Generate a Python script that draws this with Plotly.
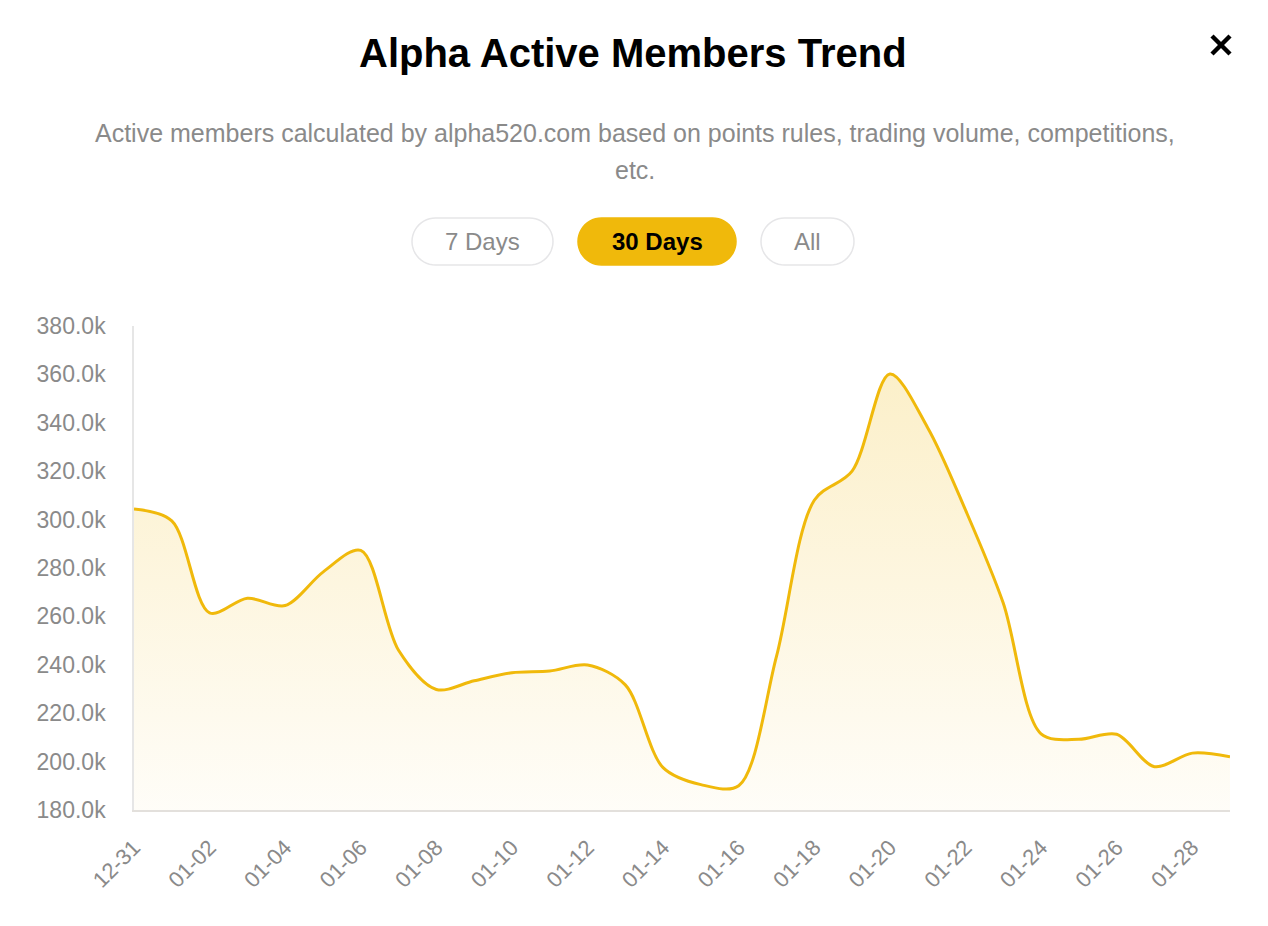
import math
import plotly.graph_objects as go

# ---------------- data ----------------
dates = ["12-31", "01-01", "01-02", "01-03", "01-04", "01-05", "01-06", "01-07",
         "01-08", "01-09", "01-10", "01-11", "01-12", "01-13", "01-14", "01-15",
         "01-16", "01-17", "01-18", "01-19", "01-20", "01-21", "01-22", "01-23",
         "01-24", "01-25", "01-26", "01-27", "01-28", "01-29"]
active_members = [304400, 299500, 261500, 267500, 264500, 278300, 287300, 246000,
                  229800, 233400, 236700, 237400, 239900, 231700, 197500, 190500,
                  190000, 243500, 308000, 320000, 360200, 338000, 304000, 265500,
                  211500, 209200, 211300, 197900, 203500, 202000]
x_tick_labels = dates[0:29:2]
y_tick_values = [180000, 200000, 220000, 240000, 260000, 280000, 300000,
                 320000, 340000, 360000, 380000]
y_tick_labels = [f"{v / 1000:.1f}k" for v in y_tick_values]
buttons = ["7 Days", "30 Days", "All"]

TITLE = "Alpha Active Members Trend"
SUBTITLE_1 = "Active members calculated by alpha520.com based on points rules, trading volume, competitions,"
SUBTITLE_2 = "etc."

# ---------------- layout geometry (pixels) ----------------
W, H = 1268, 926
PL, PR, PT, PB = 134, 1230, 326, 810
YELLOW = "#F0B90B"
GREY = "#8a8a8a"
FONT = "Liberation Sans, Arial, Helvetica, sans-serif"


def px(x, y):
    return (x - PL) / (PR - PL), (PB - y) / (PB - PT)


def pill_path(x0, y0, x1, y1, n=24):
    r = (y1 - y0) / 2.0
    cy = (y0 + y1) / 2.0
    pts = []
    for i in range(n + 1):
        a = -math.pi / 2 + math.pi * i / n
        pts.append((x1 - r + r * math.cos(a), cy + r * math.sin(a)))
    for i in range(n + 1):
        a = math.pi / 2 + math.pi * i / n
        pts.append((x0 + r + r * math.cos(a), cy + r * math.sin(a)))
    coords = [px(a, b) for a, b in pts]
    return "M " + " L ".join(f"{a:.5f},{b:.5f}" for a, b in coords) + " Z"


fig = go.Figure()
fig.add_trace(go.Scatter(
    x=dates,
    y=active_members,
    mode="lines",
    line=dict(color=YELLOW, width=3, shape="spline", smoothing=0.9),
    fill="tozeroy",
    fillgradient=dict(
        type="vertical",
        start=180000,
        stop=360000,
        colorscale=[[0, "rgba(240,185,11,0.03)"], [1, "rgba(240,185,11,0.22)"]],
    ),
    hoverinfo="x+y",
    showlegend=False,
))

shapes = []
annotations = []

# title, subtitle
tx, ty = px(W / 2 - 1, 53)
annotations.append(dict(text=f"<b>{TITLE}</b>", x=tx, y=ty, xref="paper", yref="paper",
                        showarrow=False, xanchor="center", yanchor="middle",
                        font=dict(size=40, color="#000000", family=FONT)))
sx, sy1 = px(W / 2 + 1, 133)
_, sy2 = px(W / 2, 170)
annotations.append(dict(text=SUBTITLE_1, x=sx, y=sy1, xref="paper", yref="paper",
                        showarrow=False, xanchor="center", yanchor="middle",
                        font=dict(size=25, color=GREY, family=FONT)))
annotations.append(dict(text=SUBTITLE_2, x=sx, y=sy2, xref="paper", yref="paper",
                        showarrow=False, xanchor="center", yanchor="middle",
                        font=dict(size=25, color=GREY, family=FONT)))

# close "x"
for (a0, b0, a1, b1) in [(1212, 36, 1230, 54), (1212, 54, 1230, 36)]:
    p0 = px(a0, b0)
    p1 = px(a1, b1)
    shapes.append(dict(type="line", xref="paper", yref="paper",
                       x0=p0[0], y0=p0[1], x1=p1[0], y1=p1[1],
                       line=dict(color="#000000", width=4.5)))

# buttons
btn_boxes = [(412, 218, 553, 265), (578, 218, 736, 265), (761, 218, 854, 265)]
for label, (x0, y0, x1, y1) in zip(buttons, btn_boxes):
    active = label == "30 Days"
    shapes.append(dict(type="path", xref="paper", yref="paper",
                       path=pill_path(x0, y0, x1, y1),
                       fillcolor=YELLOW if active else "#ffffff",
                       line=dict(color=YELLOW if active else "#e6e6e8", width=1.5),
                       layer="above"))
    bx, by = px((x0 + x1) / 2, (y0 + y1) / 2 + 0.5)
    annotations.append(dict(text=f"<b>{label}</b>" if active else label,
                            x=bx, y=by, xref="paper", yref="paper",
                            showarrow=False, xanchor="center", yanchor="middle",
                            font=dict(size=24, color="#000000" if active else GREY,
                                      family=FONT)))

fig.update_layout(
    width=W, height=H,
    margin=dict(l=PL, r=W - PR, t=PT, b=H - PB),
    paper_bgcolor="#ffffff",
    plot_bgcolor="#ffffff",
    font=dict(family=FONT, color=GREY),
    shapes=shapes,
    annotations=annotations,
    xaxis=dict(
        type="category",
        range=[0, len(dates) - 1],
        tickmode="array",
        tickvals=x_tick_labels,
        ticktext=x_tick_labels,
        tickangle=-45,
        tickfont=dict(size=22, color=GREY, family=FONT),
        showgrid=False,
        zeroline=False,
        showline=True,
        linecolor="#e3e0dc",
        linewidth=2,
        ticks="",
        ticklen=0,
        ticklabelstandoff=14,
        fixedrange=True,
    ),
    yaxis=dict(
        range=[180000, 380000],
        tickmode="array",
        tickvals=y_tick_values,
        ticktext=y_tick_labels,
        tickfont=dict(size=23, color=GREY, family=FONT),
        showgrid=False,
        zeroline=False,
        showline=True,
        linecolor="#e6e6e6",
        linewidth=1.5,
        ticks="",
        ticklabelstandoff=22,
        fixedrange=True,
    ),
)

fig.write_html("out.html", config={"displayModeBar": False},
               post_script="document.body.style.margin='0px';document.body.style.overflow='hidden';")
